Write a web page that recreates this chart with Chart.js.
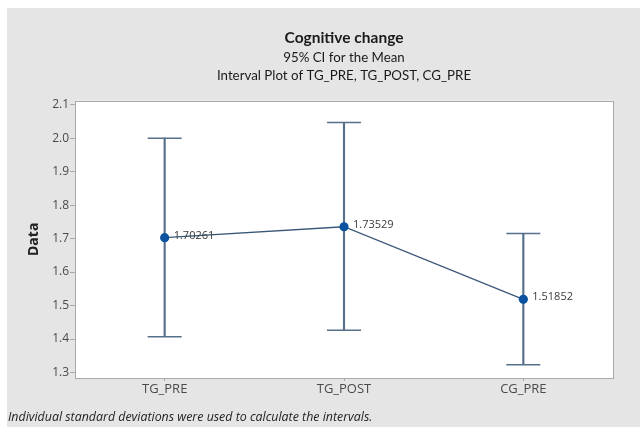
<!DOCTYPE html>
<html>
<head>
<meta charset="utf-8">
<script src="https://cdn.jsdelivr.net/npm/chart.js@4"></script>
<style>
  html, body { margin: 0; padding: 0; background: #ffffff; }
  #wrap { width: 640px; height: 427px; }
</style>
</head>
<body>
<div id="wrap"><canvas id="chart" width="640" height="427"></canvas></div>
<script>
// Interval plot: group means with 95% confidence intervals
const categories = ['TG_PRE', 'TG_POST', 'CG_PRE'];
const means = [1.70261, 1.73529, 1.51852];
const lowerCI = [1.407, 1.426, 1.323];
const upperCI = [2.000, 2.047, 1.715];
const yTickValues = [1.3, 1.4, 1.5, 1.6, 1.7, 1.8, 1.9, 2.0, 2.1];

const FONT = '"Open Sans", "Noto Sans", sans-serif';
const TITLE_FONT = 'Lato, "Open Sans", sans-serif';
const FRAME = '#a9a9a9';
const BAR = '#56708c';

// Grey page, white plot panel with frame, footnote and mean labels
const decorations = {
  id: 'decorations',
  beforeDraw(chart) {
    const { ctx, chartArea: a } = chart;
    ctx.save();
    ctx.fillStyle = '#ffffff';
    ctx.fillRect(0, 0, chart.width, chart.height);
    ctx.fillStyle = '#e5e5e5';
    ctx.fillRect(7, 8, chart.width - 7, chart.height - 8);
    ctx.fillStyle = '#ffffff';
    ctx.fillRect(a.left, a.top, a.right - a.left, a.bottom - a.top);
    ctx.strokeStyle = FRAME;
    ctx.lineWidth = 1;
    ctx.strokeRect(Math.round(a.left) + 0.5, Math.round(a.top) + 0.5,
                   Math.round(a.right - a.left), Math.round(a.bottom - a.top));
    ctx.restore();
  },
  afterDatasetsDraw(chart) {
    const { ctx } = chart;
    const meta = chart.getDatasetMeta(0);
    ctx.save();
    ctx.font = '11px ' + FONT;
    ctx.fillStyle = '#3a3a3a';
    ctx.textAlign = 'left';
    ctx.textBaseline = 'middle';
    meta.data.forEach((pt, i) => {
      ctx.fillText(String(means[i]), pt.x + 9, pt.y - 2);
    });
    ctx.restore();
  },
  afterDraw(chart) {
    const { ctx } = chart;
    ctx.save();
    ctx.font = 'italic 12.4px ' + FONT;
    ctx.fillStyle = '#222222';
    ctx.textAlign = 'left';
    ctx.textBaseline = 'middle';
    ctx.fillText('Individual standard deviations were used to calculate the intervals.', 8, 417);
    ctx.restore();
  }
};

new Chart(document.getElementById('chart'), {
  type: 'bar',
  data: {
    labels: categories,
    datasets: [
      {
        type: 'line',
        label: 'Mean',
        data: means,
        order: 0,
        borderColor: '#3b5878',
        borderWidth: 1.3,
        tension: 0,
        pointRadius: 4.6,
        pointBackgroundColor: '#0b52a0',
        pointBorderWidth: 0,
        pointHoverRadius: 4.6
      },
      {
        type: 'line',
        label: 'Upper',
        data: upperCI,
        order: 1,
        showLine: false,
        pointStyle: 'line',
        pointRadius: 17,
        pointBorderColor: BAR,
        pointBorderWidth: 1.5,
        pointHoverRadius: 17
      },
      {
        type: 'line',
        label: 'Lower',
        data: lowerCI,
        order: 1,
        showLine: false,
        pointStyle: 'line',
        pointRadius: 17,
        pointBorderColor: BAR,
        pointBorderWidth: 1.5,
        pointHoverRadius: 17
      },
      {
        type: 'bar',
        label: 'CI',
        data: categories.map((c, i) => [lowerCI[i], upperCI[i]]),
        order: 2,
        backgroundColor: BAR,
        borderWidth: 0,
        barThickness: 1.5
      }
    ]
  },
  options: {
    responsive: false,
    animation: false,
    events: [],
    layout: { padding: { left: 8, right: 27, top: 8, bottom: 19 } },
    plugins: {
      legend: { display: false },
      tooltip: { enabled: false },
      title: {
        display: true,
        fullSize: false,
        text: 'Cognitive change',
        color: '#1a1a1a',
        font: { family: TITLE_FONT, size: 15.5, weight: 'bold', lineHeight: 1.2 },
        padding: { top: 20.7, bottom: 0 }
      },
      subtitle: {
        display: true,
        fullSize: false,
        text: ['95% CI for the Mean', 'Interval Plot of TG_PRE, TG_POST, CG_PRE'],
        color: '#1a1a1a',
        font: { family: TITLE_FONT, size: 13.3, lineHeight: 1.36 },
        padding: { top: 1.2, bottom: 16 }
      }
    },
    scales: {
      x: {
        type: 'category',
        offset: true,
        grid: { display: true, offset: false, drawOnChartArea: false, drawTicks: true, tickLength: 3, color: FRAME },
        border: { display: false },
        ticks: { color: '#4a4a4a', font: { family: FONT, size: 13 }, padding: 0 },
        afterFit(s) { s.height = 30; }
      },
      y: {
        type: 'linear',
        min: 1.2835,
        max: 2.112,
        afterBuildTicks(s) { s.ticks = yTickValues.map(v => ({ value: v })); },
        grid: { display: true, drawOnChartArea: false, drawTicks: true, tickLength: 5, color: FRAME },
        border: { display: false },
        ticks: {
          color: '#4a4a4a',
          font: { family: FONT, size: 12 },
          padding: 1,
          callback: v => Number(v).toFixed(1)
        },
        title: {
          display: true,
          text: 'Data',
          color: '#222222',
          font: { family: FONT, size: 14, weight: 'bold', lineHeight: 1.2 },
          padding: { top: 18, bottom: 0 }
        },
        afterFit(s) { s.width = 67; }
      }
    }
  },
  plugins: [decorations]
});
</script>
</body>
</html>
